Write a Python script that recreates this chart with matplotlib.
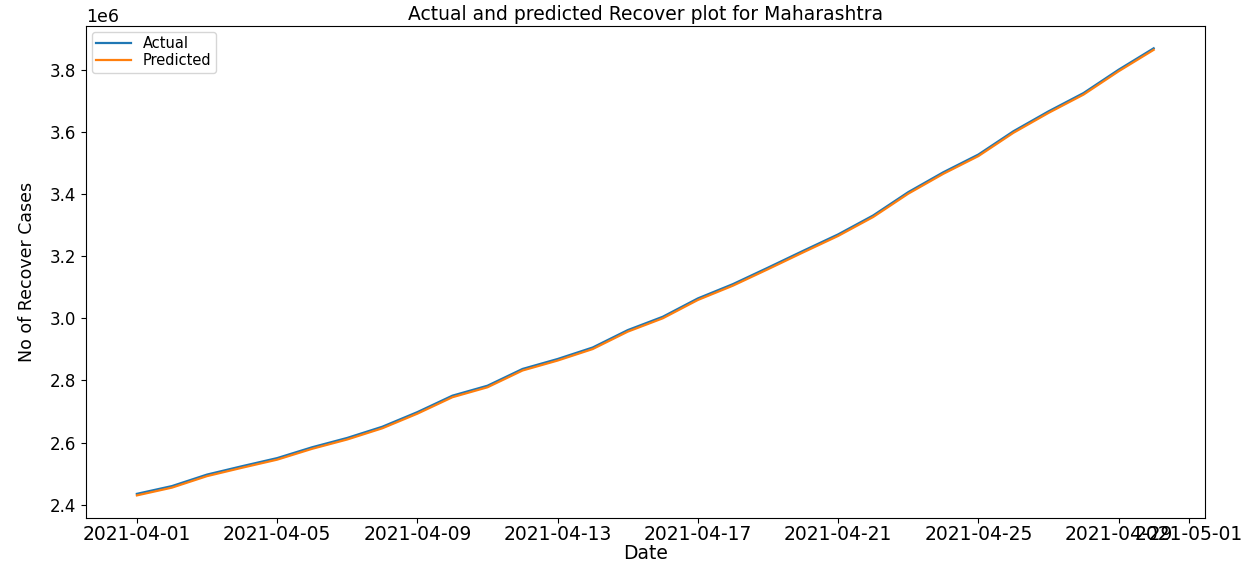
import numpy as np
import pandas as pd
import matplotlib
matplotlib.use('Agg')
import matplotlib.pyplot as plt
import matplotlib.dates as mdates

# (recovered cases, Maharashtra, April 2021)
dates = pd.date_range('2021-04-01', '2021-04-30', freq='D')
actual = [2435000, 2460000, 2497000, 2524000, 2550000, 2585000, 2615000, 2651000,
          2698000, 2751000, 2783000, 2837000, 2869000, 2906000, 2962000, 3005000,
          3064000, 3110000, 3163000, 3217000, 3270000, 3331000, 3406000, 3470000,
          3527000, 3602000, 3666000, 3725000, 3800000, 3869000]
predicted = [2430000, 2455000, 2492000, 2519000, 2545000, 2580000, 2610000, 2646000,
             2693000, 2746000, 2778000, 2832000, 2864000, 2901000, 2957000, 3000000,
             3059000, 3105000, 3158000, 3212000, 3265000, 3326000, 3401000, 3465000,
             3522000, 3597000, 3661000, 3720000, 3795000, 3864000]
tick_dates = ['2021-04-01', '2021-04-05', '2021-04-09', '2021-04-13', '2021-04-17',
              '2021-04-21', '2021-04-25', '2021-04-29', '2021-05-01']

fig = plt.figure(figsize=(12.56, 5.64), dpi=100)
ax = fig.add_axes([0.0685, 0.082, 0.8905, 0.872])

ax.plot(dates, actual, label='Actual', lw=1.6)
ax.plot(dates, predicted, label='Predicted', lw=1.6)

ax.set_xticks(pd.to_datetime(tick_dates))
ax.xaxis.set_major_formatter(mdates.DateFormatter('%Y-%m-%d'))

ax.tick_params(axis='x', labelsize=13.5, pad=2)
ax.tick_params(axis='y', labelsize=12)
ax.yaxis.get_offset_text().set_fontsize(12.5)

ax.set_title('Actual and predicted Recover plot for Maharashtra', fontsize=13.5, pad=4)
ax.set_xlabel('Date', fontsize=13.5, labelpad=0)
ax.set_ylabel('No of Recover Cases', fontsize=12.5, labelpad=10)
ax.legend(loc='upper left', fontsize=10.5, handlelength=2.4,
          borderaxespad=0.4, labelspacing=0.15, borderpad=0.3)

fig.savefig('out.png', dpi=100)
